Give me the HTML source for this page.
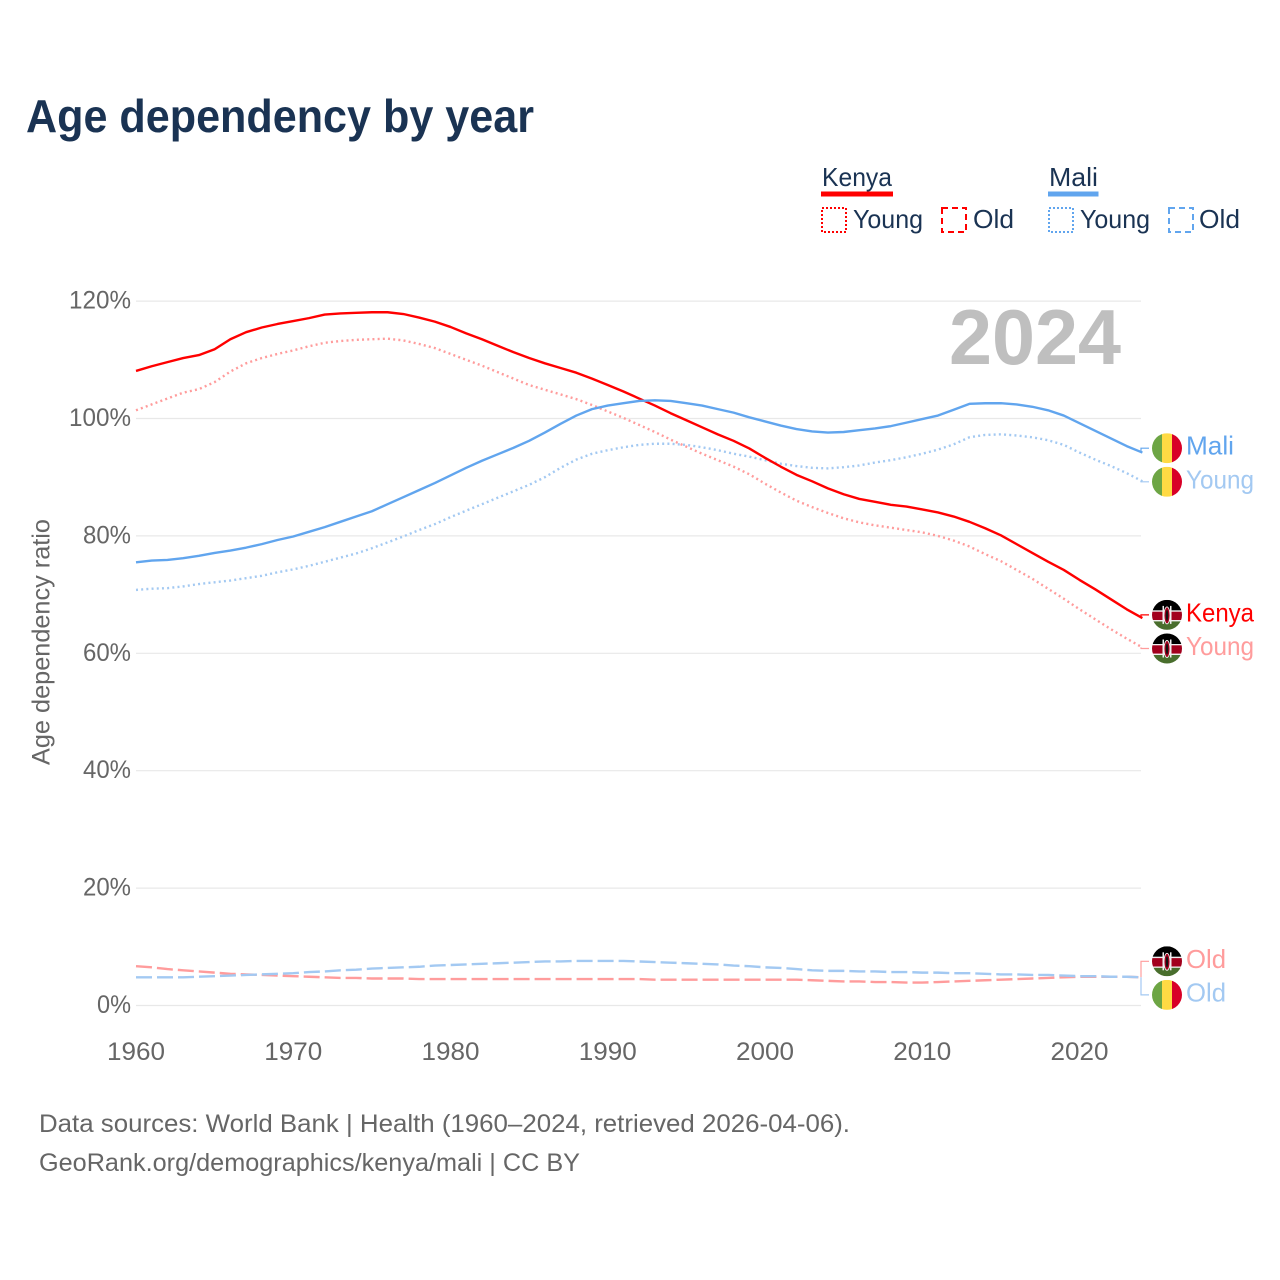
<!DOCTYPE html>
<html lang="en">
<head>
<meta charset="utf-8">
<title>Age dependency by year</title>
<style>
html,body{margin:0;padding:0;background:#fff;}
svg{display:block;}
text{font-family:"Liberation Sans",sans-serif;}
</style>
</head>
<body>
<svg id="chart" width="1280" height="1280" viewBox="0 0 1280 1280" xmlns="http://www.w3.org/2000/svg">
  <defs>
    <clipPath id="flag-clip"><circle cx="0" cy="0" r="15"></circle></clipPath>
    <g id="flag-mali" clip-path="url(#flag-clip)">
      <rect x="-15" y="-15" width="10" height="30" fill="#6da544"></rect>
      <rect x="-5" y="-15" width="10" height="30" fill="#ffda44"></rect>
      <rect x="5" y="-15" width="10" height="30" fill="#d80027"></rect>
    </g>
    <g id="flag-kenya" clip-path="url(#flag-clip)">
      <rect x="-15" y="-15" width="30" height="10.5" fill="#000"></rect>
      <rect x="-15" y="-4.5" width="30" height="1.3" fill="#f0f0f0"></rect>
      <rect x="-15" y="-3.2" width="30" height="8.4" fill="#a2001d"></rect>
      <rect x="-15" y="5.2" width="30" height="1.3" fill="#f0f0f0"></rect>
      <rect x="-15" y="6.5" width="30" height="8.5" fill="#496e2d"></rect>
      <rect x="-4.5" y="-9" width="1.5" height="18" fill="#f0f0f0"></rect>
      <rect x="3" y="-9" width="1.5" height="18" fill="#f0f0f0"></rect>
      <ellipse cx="0" cy="0.5" rx="3" ry="8.5" fill="#a2001d" stroke="#f0f0f0" stroke-width="0.9"></ellipse>
      <ellipse cx="0" cy="0.5" rx="1.2" ry="5.5" fill="#111"></ellipse>
    </g>
  </defs>

  <rect x="0" y="0" width="1280" height="1280" fill="#fff"></rect>

  <text x="26" y="132" font-size="46" font-weight="700" fill="#1a3353" textLength="508" lengthAdjust="spacingAndGlyphs">Age dependency by year</text>

  <g>
    <g>
      <text x="822" y="186" font-size="26" fill="#1a3353" textLength="70" lengthAdjust="spacingAndGlyphs">Kenya</text>
      <rect x="821" y="191.5" width="72" height="5" fill="#ff0000"></rect>
      <rect x="822" y="208" width="24" height="24" fill="none" stroke="#ff0000" stroke-width="2" stroke-dasharray="2 2"></rect>
      <text x="853" y="228" font-size="26" fill="#1a3353" textLength="70" lengthAdjust="spacingAndGlyphs">Young</text>
      <rect x="942" y="208" width="24" height="24" fill="none" stroke="#ff0000" stroke-width="2" stroke-dasharray="6 4"></rect>
      <text x="973" y="228" font-size="26" fill="#1a3353" textLength="41" lengthAdjust="spacingAndGlyphs">Old</text>
    </g>
    <g>
      <text x="1049" y="186" font-size="26" fill="#1a3353" textLength="49" lengthAdjust="spacingAndGlyphs">Mali</text>
      <rect x="1048" y="191.5" width="50.5" height="5" fill="#61a5ee"></rect>
      <rect x="1049" y="208" width="24" height="24" fill="none" stroke="#61a5ee" stroke-width="2" stroke-dasharray="2 2"></rect>
      <text x="1080" y="228" font-size="26" fill="#1a3353" textLength="70" lengthAdjust="spacingAndGlyphs">Young</text>
      <rect x="1169" y="208" width="24" height="24" fill="none" stroke="#61a5ee" stroke-width="2" stroke-dasharray="6 4"></rect>
      <text x="1199" y="228" font-size="26" fill="#1a3353" textLength="41" lengthAdjust="spacingAndGlyphs">Old</text>
    </g>
  </g>

  <g id="grid"></g>
  <text x="949" y="364" font-size="78" font-weight="700" fill="#bfbfbf" textLength="172" lengthAdjust="spacingAndGlyphs">2024</text>
  <g id="y-ticks"></g>
  <g id="x-ticks"></g>
  <text transform="translate(49.5 642) rotate(-90)" text-anchor="middle" font-size="25" fill="#666" textLength="246" lengthAdjust="spacingAndGlyphs">Age dependency ratio</text>
  <g id="series"></g>
  <g id="end-labels"></g>

  <text x="39" y="1132" font-size="25" fill="#666" textLength="811" lengthAdjust="spacingAndGlyphs">Data sources: World Bank | Health (1960–2024, retrieved 2026-04-06).</text>
  <text x="39" y="1171" font-size="25" fill="#666" textLength="541" lengthAdjust="spacingAndGlyphs">GeoRank.org/demographics/kenya/mali | CC BY</text>
</svg>

<script>
const startYear = 1960;
const xTickYears = [1960, 1970, 1980, 1990, 2000, 2010, 2020];
const yTickValues = [0, 20, 40, 60, 80, 100, 120];

const kenyaTotal = [108.1,108.9,109.6,110.3,110.8,111.8,113.5,114.7,115.5,116.1,
  116.6,117.1,117.7,117.9,118.0,118.1,118.1,117.8,117.2,116.5,
  115.6,114.5,113.5,112.4,111.3,110.3,109.4,108.6,107.8,106.8,
  105.7,104.6,103.4,102.2,100.9,99.7,98.5,97.3,96.2,94.9,
  93.3,91.8,90.4,89.3,88.1,87.1,86.3,85.8,85.3,85.0,
  84.5,84.0,83.3,82.4,81.3,80.1,78.6,77.1,75.6,74.2,
  72.5,70.9,69.2,67.5,66.0];
const kenyaYoung = [101.4,102.4,103.4,104.4,105.0,106.2,108.0,109.4,110.3,111.0,
  111.6,112.3,112.9,113.2,113.4,113.5,113.6,113.3,112.7,112.0,
  111.0,110.0,109.0,107.9,106.8,105.7,104.9,104.1,103.3,102.3,
  101.2,100.1,98.9,97.7,96.4,95.2,94.0,92.9,91.8,90.5,
  88.9,87.4,86.0,84.9,83.9,83.0,82.3,81.8,81.4,81.0,
  80.6,80.0,79.2,78.2,76.9,75.7,74.2,72.7,71.0,69.3,
  67.5,65.8,64.1,62.5,61.0];
const kenyaOld = [6.7,6.5,6.2,6.0,5.8,5.6,5.4,5.3,5.2,5.1,
  5.0,4.9,4.8,4.7,4.7,4.6,4.6,4.6,4.5,4.5,
  4.5,4.5,4.5,4.5,4.5,4.5,4.5,4.5,4.5,4.5,
  4.5,4.5,4.5,4.4,4.4,4.4,4.4,4.4,4.4,4.4,
  4.4,4.4,4.4,4.3,4.2,4.1,4.1,4.0,4.0,3.9,
  3.9,4.0,4.1,4.2,4.3,4.4,4.5,4.6,4.7,4.8,
  4.9,4.9,4.9,4.9,4.8];
const maliTotal = [75.5,75.8,75.9,76.2,76.6,77.1,77.5,78.0,78.6,79.3,
  79.9,80.7,81.5,82.4,83.3,84.2,85.4,86.6,87.8,89.0,
  90.3,91.6,92.8,93.9,95.0,96.2,97.6,99.1,100.5,101.6,
  102.2,102.6,103.0,103.1,103.0,102.6,102.2,101.6,101.0,100.2,
  99.5,98.8,98.2,97.8,97.6,97.7,98.0,98.3,98.7,99.3,
  99.9,100.5,101.5,102.5,102.6,102.6,102.4,102.0,101.4,100.5,
  99.2,97.9,96.6,95.3,94.2];
const maliYoung = [70.8,71.0,71.1,71.4,71.8,72.1,72.4,72.8,73.2,73.8,
  74.3,74.9,75.6,76.3,77.0,77.9,78.9,79.9,81.0,82.0,
  83.2,84.3,85.4,86.5,87.6,88.7,90.0,91.6,93.0,94.0,
  94.6,95.1,95.5,95.7,95.7,95.5,95.1,94.6,94.0,93.5,
  92.9,92.3,91.9,91.6,91.5,91.7,92.0,92.5,92.9,93.4,
  94.0,94.7,95.6,96.8,97.2,97.3,97.1,96.8,96.3,95.5,
  94.2,93.0,91.9,90.7,89.3];
const maliOld = [4.8,4.8,4.8,4.8,4.9,5.0,5.1,5.2,5.3,5.4,
  5.5,5.7,5.8,6.0,6.1,6.3,6.4,6.5,6.6,6.8,
  6.9,7.0,7.1,7.2,7.3,7.4,7.5,7.5,7.6,7.6,
  7.6,7.6,7.5,7.4,7.3,7.2,7.1,7.0,6.8,6.7,
  6.5,6.4,6.2,6.0,5.9,5.9,5.8,5.8,5.7,5.7,
  5.6,5.6,5.5,5.5,5.4,5.3,5.3,5.2,5.2,5.1,
  5.0,5.0,4.9,4.9,4.8];

const NS = 'http://www.w3.org/2000/svg';
const xScale = function (year) { return 136 + (year - 1960) * 15.725; };
const yScale = function (v) { return 1005.5 - v * 5.87; };

function make(tag, attrs, parent, txt) {
  const el = document.createElementNS(NS, tag);
  for (const k in attrs) el.setAttribute(k, attrs[k]);
  if (txt !== undefined) el.textContent = txt;
  parent.appendChild(el);
  return el;
}

const gridG = document.getElementById('grid');
const yG = document.getElementById('y-ticks');
const xG = document.getElementById('x-ticks');
const seriesG = document.getElementById('series');
const labelsG = document.getElementById('end-labels');

yTickValues.forEach(function (v) {
  const y = yScale(v);
  const line = make('line', {x1: 136, x2: 1141, y1: y, y2: y, stroke: '#e8e8e8', 'stroke-width': 1.2}, gridG);
  
  
  const label = v + '%';
  const t = make('text', {x: 131, y: y + 7.5, 'text-anchor': 'end', 'font-size': 25, fill: '#666', textLength: label.length === 4 ? 62 : (label.length === 3 ? 48 : 34), lengthAdjust: 'spacingAndGlyphs'}, yG, label);
  
  
});

xTickYears.forEach(function (yr) {
  const t = make('text', {x: xScale(yr), y: 1060, 'text-anchor': 'middle', 'font-size': 25, fill: '#666', textLength: 58, lengthAdjust: 'spacingAndGlyphs'}, xG, String(yr));
  
  
});

const seriesList = [
  {key: 'kenya-old', values: kenyaOld, color: '#ff9c9c', width: 2.4, dash: '16 5', label: 'Old', flag: 'kenya', textLen: 40},
  {key: 'mali-old', values: maliOld, color: '#a3c9f2', width: 2.4, dash: '16 5', label: 'Old', flag: 'mali', textLen: 40},
  {key: 'kenya-young', values: kenyaYoung, color: '#ff9c9c', width: 2.4, dash: '2 3.2', label: 'Young', flag: 'kenya', textLen: 68},
  {key: 'mali-young', values: maliYoung, color: '#a3c9f2', width: 2.4, dash: '2 3.2', label: 'Young', flag: 'mali', textLen: 68},
  {key: 'kenya-total', values: kenyaTotal, color: '#ff0000', width: 2.4, dash: '', label: 'Kenya', flag: 'kenya', textLen: 68},
  {key: 'mali-total', values: maliTotal, color: '#61a5ee', width: 2.4, dash: '', label: 'Mali', flag: 'mali', textLen: 48}
];

seriesList.forEach(function (s) {
  const pts = s.values.map(function (v, i) { return xScale(startYear + i).toFixed(2) + ',' + yScale(v).toFixed(2); }).join(' ');
  const attrs = {points: pts, fill: 'none', stroke: s.color, 'stroke-width': s.width, 'stroke-linejoin': 'round'};
  if (s.dash) attrs['stroke-dasharray'] = s.dash;
  const line = make('polyline', attrs, seriesG);
  
  
});

/* Resolve end-label collisions: neighbours closer than the label height are spread around their mean. */
const labelGap = 33.6;
const ordered = seriesList.map(function (s) {
  const endY = yScale(s.values[s.values.length - 1]);
  return {s: s, endY: endY, labelY: endY};
}).sort(function (a, b) { return a.endY - b.endY; });
const clusters = [];
ordered.forEach(function (item) {
  const last = clusters[clusters.length - 1];
  if (last && item.endY - last[last.length - 1].endY < labelGap) last.push(item);
  else clusters.push([item]);
});
clusters.forEach(function (c) {
  const mean = c.reduce(function (a, it) { return a + it.endY; }, 0) / c.length;
  c.forEach(function (it, i) {
    const raw = mean + (i - (c.length - 1) / 2) * labelGap;
    it.labelY = raw + (mean - 840) * 0.0053;
  });
});

ordered.forEach(function (it) {
  const s = it.s;
  const group = make('g', {}, labelsG);
  
  
  const link = make('path', {d: 'M1141 ' + it.endY.toFixed(1) + ' V' + it.labelY.toFixed(1) + ' H1149', fill: 'none', stroke: s.color, 'stroke-width': 1.2}, group);
  
  
  const flag = make('use', {href: '#flag-' + s.flag, transform: 'translate(1167 ' + it.labelY.toFixed(1) + ')'}, group);
  
  
  const text = make('text', {x: 1186, y: (it.labelY + 6.5).toFixed(1), 'font-size': 26, fill: s.color, textLength: s.textLen, lengthAdjust: 'spacingAndGlyphs'}, group, s.label);
  
  
});
</script>
</body>
</html>
